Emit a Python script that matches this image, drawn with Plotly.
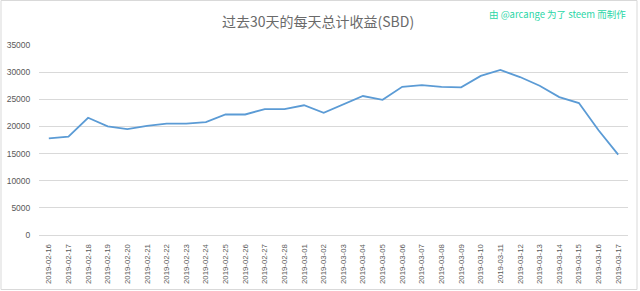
import plotly.graph_objects as go

dates = ["2019-02-16", "2019-02-17", "2019-02-18", "2019-02-19", "2019-02-20", "2019-02-21",
         "2019-02-22", "2019-02-23", "2019-02-24", "2019-02-25", "2019-02-26", "2019-02-27",
         "2019-02-28", "2019-03-01", "2019-03-02", "2019-03-03", "2019-03-04", "2019-03-05",
         "2019-03-06", "2019-03-07", "2019-03-08", "2019-03-09", "2019-03-10", "2019-03-11",
         "2019-03-12", "2019-03-13", "2019-03-14", "2019-03-15", "2019-03-16", "2019-03-17"]
sbd = [17800, 18100, 21600, 20000, 19500, 20100, 20500, 20500, 20800, 22200,
       22200, 23200, 23200, 23900, 22500, 24000, 25600, 24900, 27300, 27600,
       27300, 27200, 29300, 30400, 29100, 27500, 25400, 24300, 19300, 14800]
y_ticks = [0, 5000, 10000, 15000, 20000, 25000, 30000, 35000]
y_labels = [str(v) for v in y_ticks]

title_text = "过去30天的每天总计收益(SBD)"
credit_text = "由 @arcange 为了 steem 而制作"

W, H = 640, 291
L, R, T, B = 39, 12, 45, 56
pw, ph = W - L - R, H - T - B

def px(x):
    return (x - L) / pw

def py(y):
    return (H - B - y) / ph

fig = go.Figure()
fig.add_trace(go.Scatter(
    x=dates, y=sbd, mode="lines",
    line=dict(color="#5b9bd5", width=1.8),
    hoverinfo="x+y",
))

fig.update_layout(
    width=W, height=H,
    margin=dict(l=L, r=R, t=T, b=B, autoexpand=False),
    paper_bgcolor="white", plot_bgcolor="white",
    showlegend=False,
    font=dict(family="Liberation Sans, Arial, sans-serif", color="#595959"),
    xaxis=dict(
        type="category", range=[-0.5, len(dates) - 0.5], automargin=False,
        tickangle=-90, tickfont=dict(size=7.8, color="#595959"),
        showgrid=False, showline=True, linecolor="#d9d9d9", linewidth=1,
        ticks="outside", ticklen=5, tickcolor="rgba(0,0,0,0)",
        zeroline=False, fixedrange=True,
    ),
    yaxis=dict(
        range=[0, 35000], tickvals=y_ticks, ticktext=y_labels, automargin=False,
        tickfont=dict(size=8.5, color="#595959"),
        showgrid=True, gridcolor="#d9d9d9", gridwidth=1,
        zeroline=False, showline=False,
        ticks="outside", ticklen=6, tickcolor="rgba(0,0,0,0)",
        fixedrange=True,
    ),
    annotations=[
        dict(text=title_text, xref="paper", yref="paper", x=px(318), y=py(21.5),
             xanchor="center", yanchor="middle", showarrow=False,
             font=dict(family="Noto Sans CJK SC, sans-serif", size=14, color="#6a6a6a")),
        dict(text=credit_text, xref="paper", yref="paper", x=px(628), y=py(13.5),
             xanchor="right", yanchor="middle", showarrow=False,
             font=dict(family="Noto Sans CJK SC, sans-serif", size=9.5, color="#2ad6a6")),
    ],
    shapes=[
        dict(type="rect", xref="paper", yref="paper",
             x0=px(1), x1=px(637), y0=py(289.5), y1=py(0.5),
             line=dict(color="#d9d9d9", width=1), fillcolor="rgba(0,0,0,0)", layer="below"),
    ],
)

fig.write_html("out.html")
